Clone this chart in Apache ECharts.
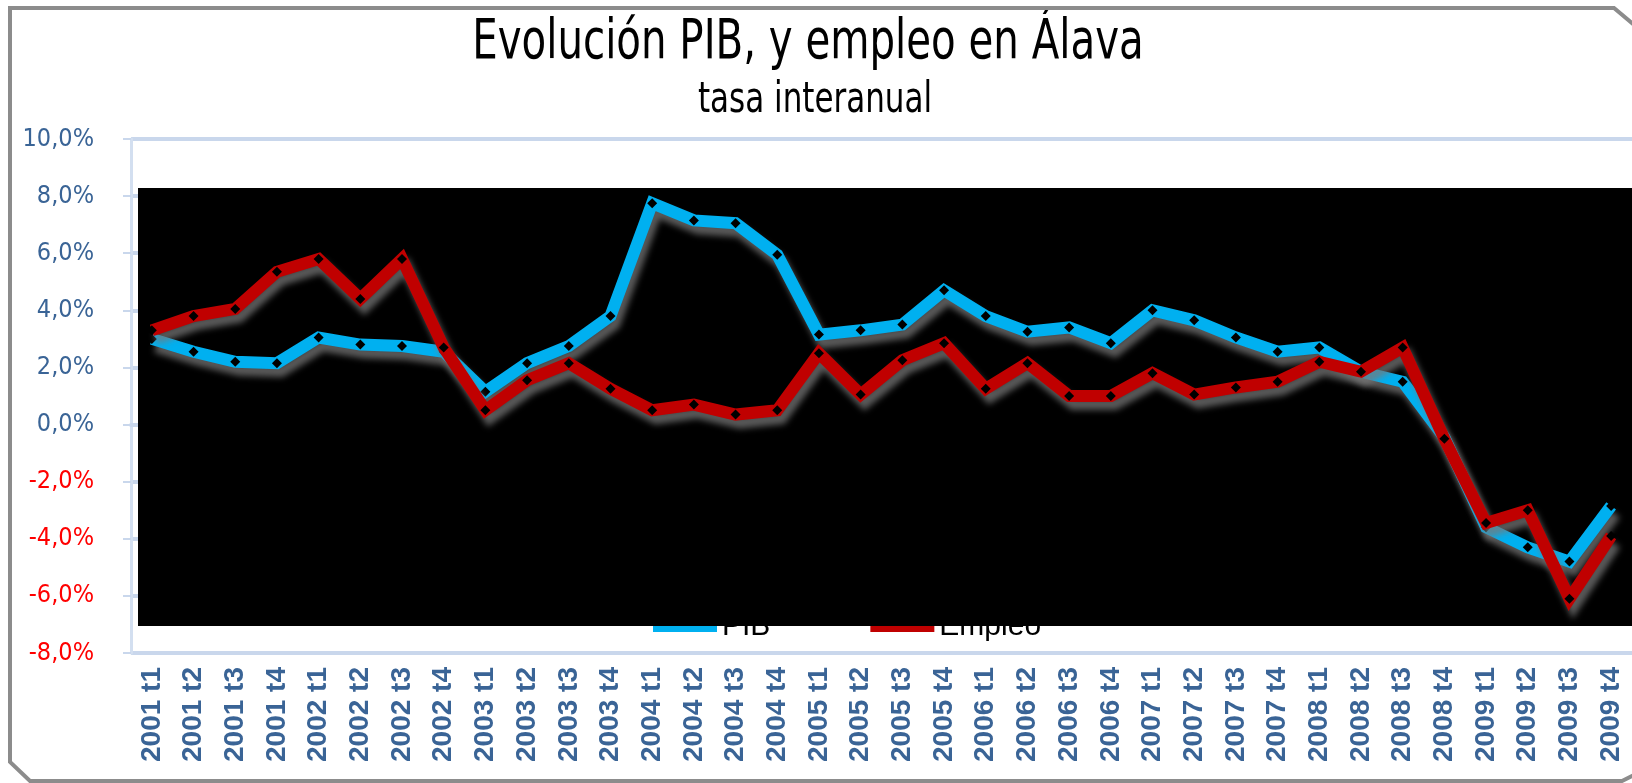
<!DOCTYPE html>
<html>
<head>
<meta charset="utf-8">
<title>Evolución PIB, y empleo en Álava</title>
<script src="https://cdn.jsdelivr.net/npm/echarts@6/dist/echarts.min.js"></script>
<style>
	html, body { margin: 0; padding: 0; background: #fff; }
	#pib_empleo_chart { width: 1632px; height: 783px; }
</style>
</head>
<body>
<div id="pib_empleo_chart"></div>
<script>
// datos: tasa interanual (%)
var categorias = [
	'2001 t1', '2001 t2', '2001 t3', '2001 t4',
	'2002 t1', '2002 t2', '2002 t3', '2002 t4',
	'2003 t1', '2003 t2', '2003 t3', '2003 t4',
	'2004 t1', '2004 t2', '2004 t3', '2004 t4',
	'2005 t1', '2005 t2', '2005 t3', '2005 t4',
	'2006 t1', '2006 t2', '2006 t3', '2006 t4',
	'2007 t1', '2007 t2', '2007 t3', '2007 t4',
	'2008 t1', '2008 t2', '2008 t3', '2008 t4',
	'2009 t1', '2009 t2', '2009 t3', '2009 t4'
];
var pib_data = [
	3.0, 2.55, 2.2, 2.15,
	3.05, 2.8, 2.75, 2.55,
	1.15, 2.15, 2.75, 3.8,
	7.75, 7.15, 7.05, 5.95,
	3.15, 3.3, 3.5, 4.7,
	3.8, 3.25, 3.4, 2.85,
	4.0, 3.65, 3.05, 2.55,
	2.7, 1.85, 1.5, -0.45,
	-3.6, -4.3, -4.8, -2.85
];
var empleo_data = [
	3.3, 3.8, 4.05, 5.35,
	5.8, 4.4, 5.8, 2.7,
	0.5, 1.55, 2.15, 1.25,
	0.5, 0.7, 0.35, 0.5,
	2.5, 1.05, 2.25, 2.85,
	1.25, 2.15, 1.0, 1.0,
	1.8, 1.05, 1.3, 1.5,
	2.2, 1.85, 2.7, -0.5,
	-3.45, -3.0, -6.1, -3.9
];
var y_ticks = { min: -8, max: 10, interval: 2 };
var titulo = 'Evolución PIB, y empleo en Álava';
var subtitulo = 'tasa interanual';

var fuente_estrecha = '"DejaVu Sans Condensed", "Liberation Sans Narrow", sans-serif';
var fuente = '"Liberation Sans", Arial, sans-serif';

var myChart = echarts.init(document.getElementById('pib_empleo_chart'));

var sombra = {
	shadowColor: 'rgba(120,120,120,0.75)',
	shadowBlur: 6,
	shadowOffsetX: 4,
	shadowOffsetY: 8
};

option = {
	backgroundColor: '#fff',
	animation: false,
	legend: {
		z: 0,
		left: 648,
		top: 607,
		itemWidth: 64,
		itemHeight: 10,
		itemGap: 100,
		icon: 'rect',
		textStyle: {
			color: '#000',
			fontFamily: fuente,
			fontSize: 30
		},
		data: [
			{ name: 'PIB', itemStyle: { color: '#00B0F0' } },
			{ name: 'Empleo', itemStyle: { color: '#C00000' } }
		]
	},
	grid: {
		left: 131,
		right: 0,
		top: 139,
		bottom: 130
	},
	graphic: [ {
		// titulo (letra estrecha)
		type: 'text',
		x: 808,
		y: 15,
		scaleX: 0.8,
		z: 10,
		style: {
			text: titulo,
			x: 0,
			y: 0,
			fill: '#000',
			font: 'normal 56px "DejaVu Sans Condensed", sans-serif',
			align: 'center',
			textAlign: 'center',
			verticalAlign: 'top',
			textVerticalAlign: 'top'
		}
	}, {
		type: 'text',
		x: 815,
		y: 80,
		scaleX: 0.82,
		z: 10,
		style: {
			text: subtitulo,
			x: 0,
			y: 0,
			fill: '#000',
			font: 'normal 42px "DejaVu Sans Condensed", sans-serif',
			align: 'center',
			textAlign: 'center',
			verticalAlign: 'top',
			textVerticalAlign: 'top'
		}
	}, {
		// rectángulo negro del área de trazado
		type: 'rect',
		z: 1,
		shape: { x: 138, y: 188, width: 1500, height: 438 },
		style: { fill: '#000' }
	}, {
		type: 'polyline',
		z: 10,
		shape: {
			points: [ [1640, 772], [1622, 781], [30, 781], [10, 762], [10, 8], [1614, 8], [1640, 30] ]
		},
		style: { stroke: '#8C8C8C', lineWidth: 4, fill: null }
	} ],
	xAxis: {
		type: 'category',
		data: categorias,
		boundaryGap: true,
		axisLine: {
			lineStyle: { color: '#C9D7EC', width: 4 }
		},
		axisTick: { show: false },
		axisLabel: {
			interval: 0,
			rotate: 90,
			margin: 14,
			color: '#3A6496',
			fontFamily: fuente,
			fontWeight: 'bold',
			fontSize: 28
		}
	},
	yAxis: {
		type: 'value',
		min: y_ticks.min,
		max: y_ticks.max,
		interval: y_ticks.interval,
		axisLine: {
			show: true,
			lineStyle: { color: '#D3DFF0', width: 3 }
		},
		axisTick: {
			show: true,
			length: 8,
			lineStyle: { color: '#C9D7EC', width: 2 }
		},
		splitLine: {
			lineStyle: { color: '#C9D7EC', width: 4 }
		},
		axisLabel: {
			margin: 37,
			fontFamily: fuente_estrecha,
			fontSize: 25,
			formatter: function(v) {
				return v.toFixed(1).replace('.', ',') + '%';
			},
			color: function(v) {
				return Number(v) < 0 ? '#FF0000' : '#3A6496';
			}
		}
	},
	series: [ {
		name: 'PIB',
		type: 'line',
		z: 3,
		data: pib_data,
		symbol: 'diamond',
		symbolSize: 10,
		itemStyle: { color: '#000' },
		lineStyle: Object.assign({ color: '#00B0F0', width: 12, join: 'miter' }, sombra)
	}, {
		name: 'Empleo',
		type: 'line',
		z: 4,
		data: empleo_data,
		symbol: 'diamond',
		symbolSize: 10,
		itemStyle: { color: '#000' },
		lineStyle: Object.assign({ color: '#C00000', width: 12, join: 'miter' }, sombra)
	} ]
};

myChart.setOption(option);
</script>
</body>
</html>
